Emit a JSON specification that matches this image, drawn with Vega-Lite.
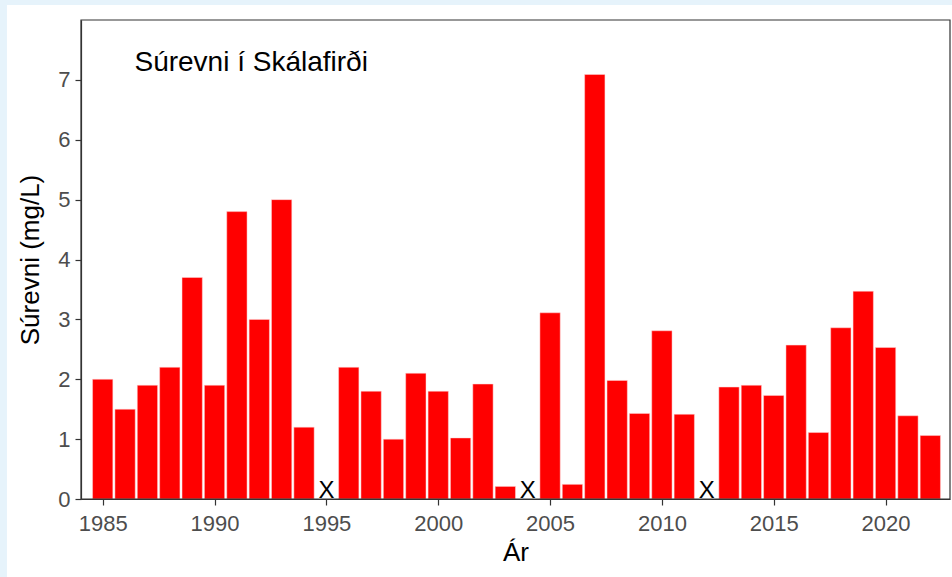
{
  "$schema": "https://vega.github.io/schema/vega-lite/v6.json",
  "width": 869,
  "height": 479,
  "autosize": {"type": "none"},
  "padding": {"left": 81, "top": 20, "right": 2, "bottom": 78},
  "background": "#e6f3fb",
  "config": {
    "font": "Liberation Sans",
    "view": {"stroke": null},
    "scale": {"continuousPadding": 0},
    "axis": {
      "grid": false,
      "domainColor": "#333333",
      "domainWidth": 1.2,
      "tickColor": "#333333",
      "tickSize": 6,
      "tickWidth": 1.2,
      "labelColor": "#4d4d4d",
      "labelFontSize": 22,
      "labelFont": "Liberation Sans",
      "titleFont": "Liberation Sans",
      "titleFontSize": 26,
      "titleFontWeight": "normal",
      "titleColor": "#000000"
    }
  },
  "data": {
    "values": [
      {"year": 1985, "value": 2.0},
      {"year": 1986, "value": 1.5},
      {"year": 1987, "value": 1.9},
      {"year": 1988, "value": 2.2},
      {"year": 1989, "value": 3.7},
      {"year": 1990, "value": 1.9},
      {"year": 1991, "value": 4.8},
      {"year": 1992, "value": 3.0},
      {"year": 1993, "value": 5.0},
      {"year": 1994, "value": 1.2},
      {"year": 1995, "value": null},
      {"year": 1996, "value": 2.2},
      {"year": 1997, "value": 1.8},
      {"year": 1998, "value": 1.0},
      {"year": 1999, "value": 2.1},
      {"year": 2000, "value": 1.8},
      {"year": 2001, "value": 1.02},
      {"year": 2002, "value": 1.92},
      {"year": 2003, "value": 0.21},
      {"year": 2004, "value": null},
      {"year": 2005, "value": 3.11},
      {"year": 2006, "value": 0.245},
      {"year": 2007, "value": 7.09},
      {"year": 2008, "value": 1.98},
      {"year": 2009, "value": 1.43},
      {"year": 2010, "value": 2.81},
      {"year": 2011, "value": 1.415},
      {"year": 2012, "value": null},
      {"year": 2013, "value": 1.87},
      {"year": 2014, "value": 1.9},
      {"year": 2015, "value": 1.73},
      {"year": 2016, "value": 2.57},
      {"year": 2017, "value": 1.11},
      {"year": 2018, "value": 2.86},
      {"year": 2019, "value": 3.47},
      {"year": 2020, "value": 2.53},
      {"year": 2021, "value": 1.39},
      {"year": 2022, "value": 1.06}
    ]
  },
  "layer": [
    {
      "data": {"values": [{"panel": "background"}]},
      "mark": {"type": "rect", "fill": "white", "clip": false},
      "encoding": {
        "x": {"datum": 1980.72, "type": "quantitative", "scale": {"domain": [1984.03, 2022.88], "nice": false, "zero": false, "padding": 0}},
        "x2": {"datum": 2024.5},
        "y": {"datum": -1.5, "type": "quantitative", "scale": {"domain": [0, 8], "nice": false, "padding": 0}},
        "y2": {"datum": 8.25}
      }
    },
    {
      "transform": [{"filter": "isValid(datum.value)"}],
      "mark": {"type": "bar", "fill": "#ff0000", "size": 20.3, "stroke": "#ffd6d6", "strokeWidth": 0.5},
      "encoding": {
        "x": {
          "field": "year", "type": "quantitative",
          "scale": {"domain": [1984.03, 2022.88], "nice": false, "zero": false, "padding": 0},
          "axis": {"zindex": 2, "values": [1985, 1990, 1995, 2000, 2005, 2010, 2015, 2020], "format": "d", "title": "Ár", "labelPadding": 8, "titlePadding": 5}
        },
        "y": {
          "field": "value", "type": "quantitative",
          "scale": {"domain": [0, 8], "nice": false, "padding": 0},
          "axis": {"zindex": 2, "values": [0, 1, 2, 3, 4, 5, 6, 7], "format": "d", "title": "Súrevni (mg/L)", "labelPadding": 5, "titlePadding": 14}
        }
      }
    },
    {
      "data": {"values": [{"panel": "border"}]},
      "mark": {"type": "rect", "fill": null, "stroke": "#333333", "strokeWidth": 1.2, "clip": false},
      "encoding": {
        "x": {"datum": 1984.03, "type": "quantitative"},
        "x2": {"datum": 2022.88},
        "y": {"datum": 0, "type": "quantitative"},
        "y2": {"datum": 8}
      }
    },
    {
      "transform": [{"filter": "!isValid(datum.value)"}],
      "mark": {"type": "text", "text": "X", "fontSize": 24, "baseline": "alphabetic", "align": "center", "dy": -1.5, "fill": "#000000", "font": "Liberation Sans"},
      "encoding": {
        "x": {"field": "year", "type": "quantitative"},
        "y": {"datum": 0, "type": "quantitative"}
      }
    },
    {
      "data": {"values": [{"label": "Súrevni í Skálafirði"}]},
      "mark": {"type": "text", "fontSize": 28, "baseline": "alphabetic", "align": "left", "fill": "#000000", "font": "Liberation Sans"},
      "encoding": {
        "text": {"field": "label"},
        "x": {"datum": 1986.42, "type": "quantitative"},
        "y": {"datum": 7.14, "type": "quantitative"}
      }
    }
  ]
}
